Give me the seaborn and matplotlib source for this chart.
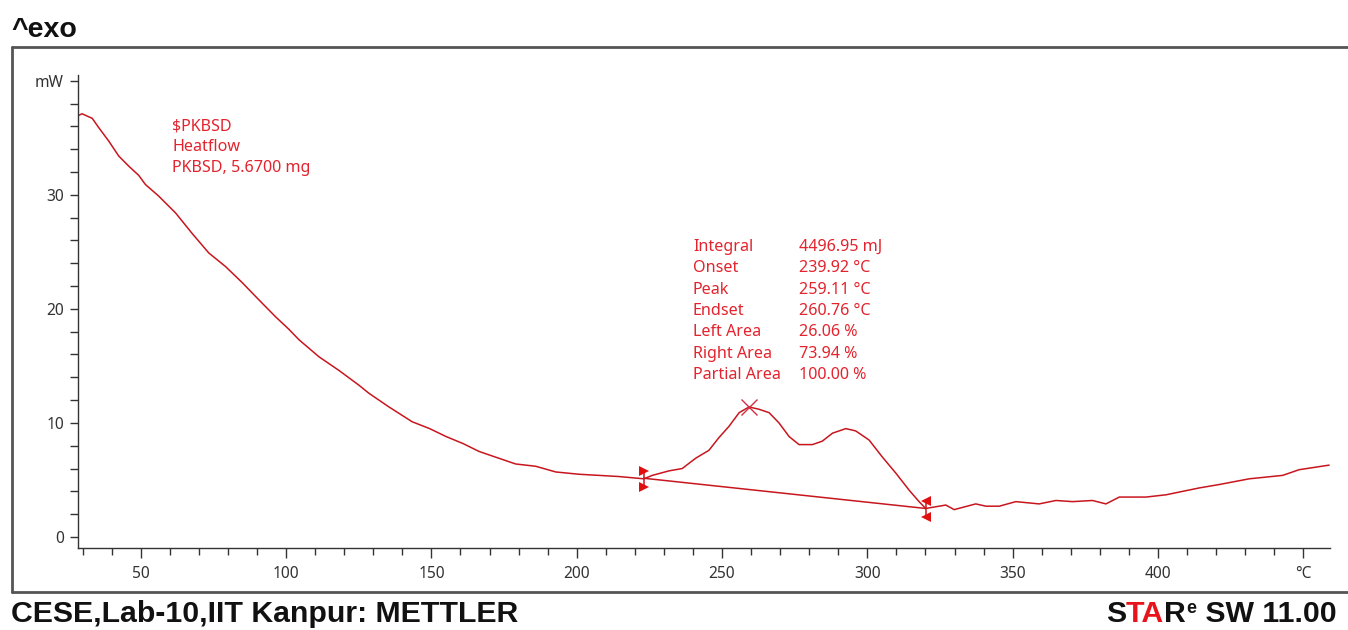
import matplotlib
matplotlib.use("Agg")
import matplotlib.pyplot as plt
import seaborn as sns
import pandas as pd
from matplotlib.lines import Line2D

# ---------------- data ----------------
temperature_c = [28.1, 29.8, 33.3, 35.5, 39.0, 42.4, 45.9, 49.3, 51.6, 56.1, 62.0, 67.7,
                 73.4, 79.2, 84.9, 90.6, 96.4, 101.0, 104.4, 111.3, 118.2, 125.1, 128.5,
                 135.4, 143.4, 149.4, 155.1, 160.8, 166.4, 172.1, 179.0, 185.9, 192.8,
                 200.8, 207.7, 214.5, 223.1, 226.0, 231.8, 236.3, 240.9, 245.5, 248.9,
                 252.4, 255.9, 259.3, 262.7, 266.2, 269.6, 273.1, 276.5, 281.1, 284.5,
                 288.0, 292.6, 296.0, 300.6, 305.2, 309.8, 314.4, 317.8, 320.1, 324.7,
                 327.0, 329.9, 337.3, 340.8, 345.4, 351.1, 359.1, 364.9, 370.6, 377.5,
                 382.1, 386.7, 395.9, 402.8, 408.5, 414.2, 421.1, 431.4, 442.9, 448.6, 458.9]
heatflow_mw = [36.9, 37.1, 36.7, 35.9, 34.7, 33.4, 32.5, 31.7, 30.9, 29.9, 28.4, 26.6,
               24.9, 23.7, 22.3, 20.8, 19.3, 18.2, 17.3, 15.8, 14.6, 13.3, 12.6,
               11.4, 10.1, 9.5, 8.8, 8.2, 7.5, 7.0, 6.4, 6.2, 5.7,
               5.5, 5.4, 5.3, 5.1, 5.4, 5.8, 6.0, 6.9, 7.6, 8.7,
               9.7, 10.9, 11.4, 11.2, 10.9, 10.0, 8.8, 8.1, 8.1, 8.4,
               9.1, 9.5, 9.3, 8.5, 7.0, 5.6, 4.1, 3.1, 2.5, 2.7,
               2.8, 2.4, 2.9, 2.7, 2.7, 3.1, 2.9, 3.2, 3.1, 3.2,
               2.9, 3.5, 3.5, 3.7, 4.0, 4.3, 4.6, 5.1, 5.4, 5.9, 6.3]

baseline_t = [223.1, 320.1]
baseline_v = [5.15, 2.5]
peak_t = [259.3]
peak_v = [11.4]

x_major = [50, 100, 150, 200, 250, 300, 350, 400, 450]
x_labels = ["50", "100", "150", "200", "250", "300", "350", "400", "°C"]
y_major = [0, 10, 20, 30, 40]
y_labels = ["0", "10", "20", "30", "mW"]

sample_lines = ["$PKBSD", "Heatflow", "PKBSD, 5.6700 mg"]
result_names = ["Integral", "Onset", "Peak", "Endset", "Left Area", "Right Area", "Partial Area"]
result_values = ["4496.95 mJ", "239.92 °C", "259.11 °C", "260.76 °C", "26.06 %", "73.94 %", "100.00 %"]

# ---------------- style ----------------
sns.set_style("white")
plt.rcParams["font.family"] = ["Noto Sans", "DejaVu Sans"]

W, H = 1348, 630
fig = plt.figure(figsize=(W / 100, H / 100), dpi=100)

LINE_RED = "#C8161E"
TEXT_RED = "#E3232D"
AX_GRAY = "#333333"


def fx(px):
    return px / W


def fy(py):
    return 1 - py / H


ax = fig.add_axes([fx(78), fy(548), fx(1330) - fx(78), fy(75) - fy(548)])

df = pd.DataFrame({"T": temperature_c, "HF": heatflow_mw})
sns.lineplot(data=df, x="T", y="HF", ax=ax, color=LINE_RED, lw=1.1,
             sort=False, estimator=None)
bdf = pd.DataFrame({"T": baseline_t, "HF": baseline_v})
sns.lineplot(data=bdf, x="T", y="HF", ax=ax, color=LINE_RED, lw=1.1,
             sort=False, estimator=None)

# integration limit markers
for t, v, m in [(baseline_t[0], baseline_v[0], ">"), (baseline_t[1], baseline_v[1], "<")]:
    ax.plot([t, t], [v - 0.75, v + 0.75], color=LINE_RED, lw=1.1)
    ax.plot([t], [v + 0.65], marker=m, color="#E01010", ms=7, mew=0)
    ax.plot([t], [v - 0.75], marker=m, color="#E01010", ms=7, mew=0)

# peak marker
ax.plot(peak_t, peak_v, marker="x", color="#D03040", ms=11, mew=1.0, ls="none")

ax.set_xlim(28.4, 459.2)
ax.set_ylim(-0.965, 40.5)

ax.set_xticks(x_major)
ax.set_xticklabels(x_labels)
ax.set_xticks(list(range(30, 451, 10)), minor=True)
ax.set_yticks(y_major)
ax.set_yticklabels(y_labels)
ax.set_yticks(list(range(0, 41, 2)), minor=True)

for s in ["top", "right"]:
    ax.spines[s].set_visible(False)
for s in ["left", "bottom"]:
    ax.spines[s].set_color(AX_GRAY)
    ax.spines[s].set_linewidth(1.0)

ax.tick_params(axis="x", which="major", direction="out", length=7, width=1,
               color=AX_GRAY, labelcolor=AX_GRAY, labelsize=11.2, pad=6, bottom=True)
ax.tick_params(axis="x", which="minor", direction="out", length=5, width=1,
               color=AX_GRAY, bottom=True)
ax.tick_params(axis="y", which="both", direction="out", length=6, width=1,
               color=AX_GRAY, labelcolor=AX_GRAY, labelsize=11.2, pad=4, left=True)
ax.set_xlabel("")
ax.set_ylabel("")
ax.grid(False)

# ---------------- annotations ----------------
ANN_SIZE = 11.6
for i, s in enumerate(sample_lines):
    fig.text(fx(172), fy(126 + 21 * i), s, color=TEXT_RED, fontsize=ANN_SIZE,
             ha="left", va="center")

for i, (n, v) in enumerate(zip(result_names, result_values)):
    yy = fy(247 + 21.3 * i)
    fig.text(fx(693), yy, n, color=TEXT_RED, fontsize=ANN_SIZE, ha="left", va="center")
    fig.text(fx(799), yy, v, color=TEXT_RED, fontsize=ANN_SIZE, ha="left", va="center")

# ---------------- frame & header/footer ----------------
frame_kw = dict(color="#555555", lw=2, transform=fig.transFigure, clip_on=False)
fig.add_artist(Line2D([fx(12), 1.0], [fy(47), fy(47)], **frame_kw))
fig.add_artist(Line2D([fx(12), 1.0], [fy(592), fy(592)], **frame_kw))
fig.add_artist(Line2D([fx(12), fx(12)], [fy(47), fy(592)], **frame_kw))

bold = dict(family=["Liberation Sans", "DejaVu Sans"], fontweight="bold")
fig.text(fx(11), fy(37), "^exo", fontsize=20.5, color="#111111", ha="left",
         va="baseline", **bold)
fig.text(fx(11), fy(622), "CESE,Lab-10,IIT Kanpur: METTLER", fontsize=21.8,
         color="#111111", ha="left", va="baseline", **bold)

# STARe SW 11.00 (multi-colour pieces placed one after another)
pieces = [("S", "#111111", 21.8, 0), ("TA", "#E8141C", 21.8, 0), ("R", "#111111", 21.8, 0),
          ("e", "#111111", 13, 9), (" SW 11.00", "#111111", 21.8, 0)]
renderer = fig.canvas.get_renderer()
x_px = 1106.0
base_px = 622.0
for txt, col, size, rise in pieces:
    t = fig.text(fx(x_px), fy(base_px - rise), txt, fontsize=size, color=col,
                 ha="left", va="baseline", **bold)
    bb = t.get_window_extent(renderer=renderer)
    x_px = bb.x1 + (1 if txt == "e" else 0)

fig.savefig("out.png", dpi=100, facecolor="white")
